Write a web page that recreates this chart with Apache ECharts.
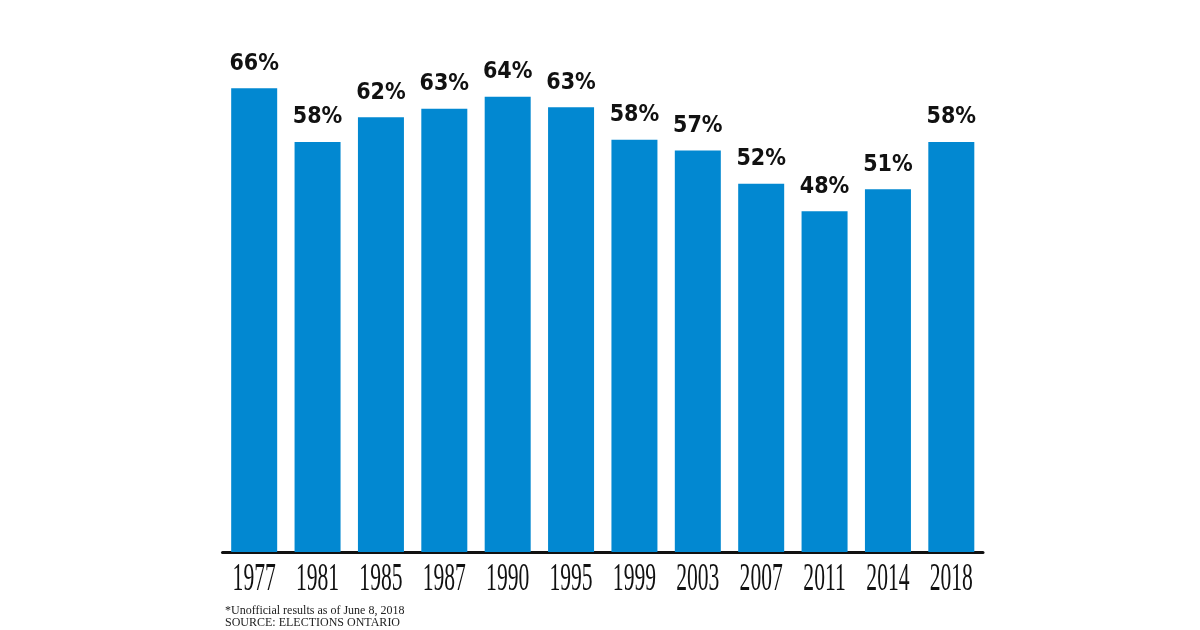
<!DOCTYPE html>
<html>
<head>
<meta charset="utf-8">
<script src="https://cdn.jsdelivr.net/npm/echarts@6/dist/echarts.min.js"></script>
<style>
  html, body { margin: 0; padding: 0; background: #fff; }
  #chart { width: 1200px; height: 630px; }
</style>
</head>
<body>
<div id="chart"></div>
<script>
// election years and turnout (%)
const years = ["1977", "1981", "1985", "1987", "1990", "1995", "1999", "2003", "2007", "2011", "2014", "2018"];
const turnout = [65.6, 58.0, 61.5, 62.7, 64.4, 62.9, 58.3, 56.8, 52.1, 48.2, 51.3, 58.0];
const turnoutLabels = ["66%", "58%", "62%", "63%", "64%", "63%", "58%", "57%", "52%", "48%", "51%", "58%"];
const notes = ["*Unofficial results as of June 8, 2018", "SOURCE: ELECTIONS ONTARIO"];

const chart = echarts.init(document.getElementById("chart"));

chart.setOption({
  backgroundColor: "#fff",
  animation: false,
  grid: { left: 222.5, right: 217, top: 85.4, bottom: 78 },
  xAxis: {
    type: "category",
    data: years,
    axisLine: { lineStyle: { color: "#111", width: 3 } },
    axisTick: { show: false },
    axisLabel: { show: false }
  },
  yAxis: {
    type: "value",
    min: 0,
    max: 66,
    show: false
  },
  series: [{
    type: "bar",
    data: turnout,
    barWidth: 46,
    itemStyle: { color: "#0288d1" },
    label: {
      show: true,
      position: "top",
      distance: 13,
      formatter: p => turnoutLabels[p.dataIndex],
      fontFamily: "'DejaVu Sans Condensed', 'Liberation Sans Narrow', Roboto, sans-serif",
      fontWeight: "bold",
      fontSize: 23,
      color: "#111"
    }
  }]
});

// year labels drawn as condensed text under each category
const yearTexts = years.map(y => ({
  type: "text",
  x: chart.convertToPixel({ xAxisIndex: 0 }, y),
  y: 579,
  scaleX: 0.54,
  style: {
    text: y,
    textAlign: "center",
    textVerticalAlign: "middle",
    fontFamily: "Liberation Serif",
    fontSize: 40,
    fill: "#111"
  }
}));

const noteTexts = notes.map((t, i) => ({
  type: "text",
  x: 225,
  y: 604.5 + i * 12,
  style: {
    text: t,
    fontFamily: "Liberation Serif",
    fontSize: 12,
    fill: "#222"
  }
}));

chart.setOption({ graphic: yearTexts.concat(noteTexts) });
</script>
</body>
</html>
